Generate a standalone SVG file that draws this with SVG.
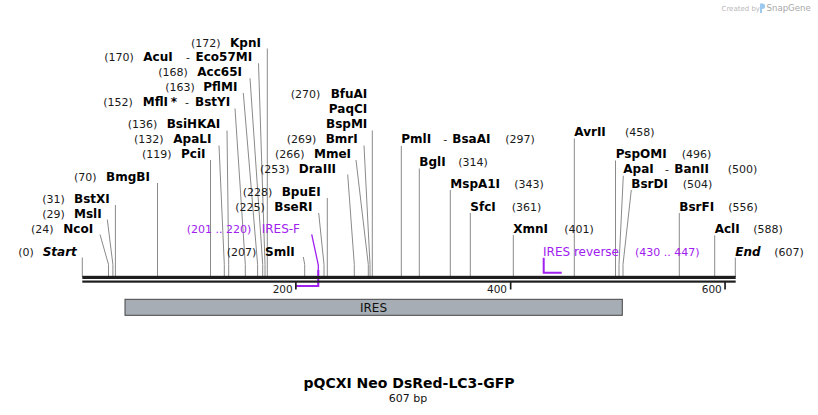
<svg xmlns="http://www.w3.org/2000/svg" width="818" height="415" viewBox="0 0 818 415">
<style>
text{font-family:"DejaVu Sans",Verdana,sans-serif}
.n{font-size:12px;font-weight:bold;fill:#000}
.i{font-size:12px;font-weight:bold;font-style:italic;fill:#000}
.c{font-size:11px;fill:#1a1a1a}
.d{font-size:11px;fill:#1a1a1a}
.pp{fill:#a020f0}
.pn{font-size:12px}
.l{stroke:#8a8a8a;stroke-width:1;fill:none}
.pr{stroke:#a020f0;fill:none}
.bb{fill:#1e1e1e}
.tk{font-size:10.5px;fill:#1a1a1a}
</style>
<rect width="818" height="415" fill="#fff"/>
<g id="logo">
<text x="721.5" y="10.5" style="font-size:7px;fill:#b8b8b8">Created by</text>
<path d="M760 3.5 h2.4 a2.7 2.7 0 0 1 0 5.4 h-0.4 v4 h-2 z" fill="#9cc9ee"/>
<text x="766.5" y="11" style="font-size:8.6px;fill:#a8a8a8">SnapGene</text>
</g>
<g id="connectors">
<path class="l" d="M82.3 257.5V277"/>
<path class="l" d="M100 234.5L108.5 264.5V277"/>
<path class="l" d="M107.3 219.5L112.9 264.5V277"/>
<path class="l" d="M115.4 205V277"/>
<path class="l" d="M157.5 183V277"/>
<path class="l" d="M210.5 160V277"/>
<path class="l" d="M219 145.5L224.3 264.5V277"/>
<path class="l" d="M227 130.5L228.7 264.5V277"/>
<path class="l" d="M235 108.5L245.3 264.5V277"/>
<path class="l" d="M243.3 93L257.6 264.5V277"/>
<path class="l" d="M250 78.3L262.7 264.5V277"/>
<path class="l" d="M258.5 63.3L265 264.5V277"/>
<path class="l" d="M267.3 48.5V277"/>
<path class="l" d="M303.3 257L304.7 264.5V277"/>
<path class="l" d="M318.7 213L324 264.5V277"/>
<path class="l" d="M327.3 198V277"/>
<path class="l" d="M347.7 174.5L354.3 264.5V277"/>
<path class="l" d="M356 160L368.3 264.5V277"/>
<path class="l" d="M364 145.5L370 264.5V277"/>
<path class="l" d="M372.3 130.5V277"/>
<path class="l" d="M401.3 146V277"/>
<path class="l" d="M419.3 168.5V277"/>
<path class="l" d="M450.3 190V277"/>
<path class="l" d="M470.3 213V277"/>
<path class="l" d="M513.3 235V277"/>
<path class="l" d="M574.3 138.5V277"/>
<path class="l" d="M615.5 160.5V277"/>
<path class="l" d="M623.3 175.7L619 264.5V277"/>
<path class="l" d="M631.3 190L623 264.5V277"/>
<path class="l" d="M679.3 213V277"/>
<path class="l" d="M714.7 235.3V277"/>
<path class="l" d="M735.3 257.7V277"/>
<path class="pr" stroke-width="1.3" d="M311.7 234.3L318.3 265V286"/>
<path class="pr" stroke-width="2" d="M318.3 270V286H295.7"/>
<path class="pr" stroke-width="2" d="M543.7 257.7V272.7H561.7"/>
</g>
<g id="backbone">
<rect class="bb" x="82.3" y="275.8" width="653.4" height="3.2"/>
<rect class="bb" x="82.3" y="280.5" width="653.4" height="2.2"/>
<rect class="bb" x="295" y="282" width="1.7" height="7.5"/>
<rect class="bb" x="509.8" y="282" width="1.7" height="7.5"/>
<rect class="bb" x="724.2" y="282" width="1.7" height="7.5"/>
<text class="tk" x="292.7" y="292.8" text-anchor="end">200</text>
<text class="tk" x="507" y="292.8" text-anchor="end">400</text>
<text class="tk" x="721.8" y="292.8" text-anchor="end">600</text>
</g>
<g id="feature-IRES">
<rect x="125" y="299.3" width="497.3" height="16" fill="#a6adb4" stroke="#444" stroke-width="1"/>
<text x="373.5" y="311.6" text-anchor="middle" style="font-size:12px;fill:#111">IRES</text>
</g>
<g id="site-Start"><text class="c" x="18.3" y="256">(0)</text><text class="i" x="42.7" y="256">Start</text></g>
<g id="site-NcoI"><text class="c" x="31" y="233">(24)</text><text class="n" x="63.3" y="233">NcoI</text></g>
<g id="site-MslI"><text class="c" x="42.3" y="217.7">(29)</text><text class="n" x="74" y="217.7">MslI</text></g>
<g id="site-BstXI"><text class="c" x="42.3" y="203.3">(31)</text><text class="n" x="74" y="203.3">BstXI</text></g>
<g id="site-BmgBI"><text class="c" x="74" y="181">(70)</text><text class="n" x="106" y="181">BmgBI</text></g>
<g id="site-PciI"><text class="c" x="142" y="158">(119)</text><text class="n" x="181" y="158">PciI</text></g>
<g id="site-ApaLI"><text class="c" x="134" y="143.3">(132)</text><text class="n" x="173.3" y="143.3">ApaLI</text></g>
<g id="site-BsiHKAI"><text class="c" x="127.7" y="128.3">(136)</text><text class="n" x="166.7" y="128.3">BsiHKAI</text></g>
<g id="site-MflI"><text class="c" x="103.3" y="106">(152)</text><text class="n" x="142.7" y="106">MflI</text><text class="n" x="170.7" y="106">*</text><text class="d" x="185" y="106">-</text><text class="n" x="195" y="106">BstYI</text></g>
<g id="site-PflMI"><text class="c" x="165.3" y="91">(163)</text><text class="n" x="203.3" y="91">PflMI</text></g>
<g id="site-Acc65I"><text class="c" x="158.3" y="76.3">(168)</text><text class="n" x="197.3" y="76.3">Acc65I</text></g>
<g id="site-AcuI"><text class="c" x="104.3" y="61.3">(170)</text><text class="n" x="143.3" y="61.3">AcuI</text><text class="d" x="186" y="61.3">-</text><text class="n" x="195.5" y="61.3">Eco57MI</text></g>
<g id="site-KpnI"><text class="c" x="191" y="46.7">(172)</text><text class="n" x="230" y="46.7">KpnI</text></g>
<g id="site-SmlI"><text class="c" x="226.7" y="256">(207)</text><text class="n" x="265" y="256">SmlI</text></g>
<g id="primer-IRES-F" class="pp"><text class="c pp" x="186.7" y="233.3">(201 .. 220)</text><text class="pn pp" x="261.7" y="233.3">IRES-F</text></g>
<g id="site-BseRI"><text class="c" x="235.3" y="211">(225)</text><text class="n" x="274.3" y="211">BseRI</text></g>
<g id="site-BpuEI"><text class="c" x="242.7" y="196">(228)</text><text class="n" x="281.7" y="196">BpuEI</text></g>
<g id="site-DraIII"><text class="c" x="260" y="172.7">(253)</text><text class="n" x="298.7" y="172.7">DraIII</text></g>
<g id="site-MmeI"><text class="c" x="275" y="157.7">(266)</text><text class="n" x="314" y="157.7">MmeI</text></g>
<g id="site-BmrI"><text class="c" x="286.7" y="143">(269)</text><text class="n" x="325.7" y="143">BmrI</text></g>
<g id="site-BfuAI"><text class="c" x="290.7" y="98.3">(270)</text><text class="n" x="367.3" y="98.3" text-anchor="end">BfuAI</text><text class="n" x="367.3" y="113" text-anchor="end">PaqCI</text><text class="n" x="367.3" y="127.7" text-anchor="end">BspMI</text></g>
<g id="site-PmlI"><text class="n" x="401.3" y="143.3">PmlI</text><text class="d" x="443.3" y="143.3">-</text><text class="n" x="452.3" y="143.3">BsaAI</text><text class="c" x="505.3" y="143.3">(297)</text></g>
<g id="site-BglI"><text class="n" x="419.3" y="166">BglI</text><text class="c" x="458.3" y="166">(314)</text></g>
<g id="site-MspA1I"><text class="n" x="450.3" y="187.7">MspA1I</text><text class="c" x="514.3" y="187.7">(343)</text></g>
<g id="site-SfcI"><text class="n" x="470.3" y="210.7">SfcI</text><text class="c" x="511.7" y="210.7">(361)</text></g>
<g id="site-XmnI"><text class="n" x="513.3" y="232.7">XmnI</text><text class="c" x="564.3" y="232.7">(401)</text></g>
<g id="primer-IRES-reverse"><text class="pn pp" x="543" y="256">IRES reverse</text><text class="c pp" x="635" y="256">(430 .. 447)</text></g>
<g id="site-AvrII"><text class="n" x="574.3" y="136">AvrII</text><text class="c" x="625" y="136">(458)</text></g>
<g id="site-PspOMI"><text class="n" x="615.7" y="158">PspOMI</text><text class="c" x="681.7" y="158">(496)</text></g>
<g id="site-ApaI"><text class="n" x="623.3" y="173">ApaI</text><text class="d" x="665" y="173">-</text><text class="n" x="674.3" y="173">BanII</text><text class="c" x="727.7" y="173">(500)</text></g>
<g id="site-BsrDI"><text class="n" x="631.3" y="187.7">BsrDI</text><text class="c" x="682.7" y="187.7">(504)</text></g>
<g id="site-BsrFI"><text class="n" x="679.3" y="210.7">BsrFI</text><text class="c" x="728.3" y="210.7">(556)</text></g>
<g id="site-AclI"><text class="n" x="714.7" y="232.7">AclI</text><text class="c" x="753.3" y="232.7">(588)</text></g>
<g id="site-End"><text class="i" x="735.3" y="256">End</text><text class="c" x="774.3" y="256">(607)</text></g>
<g id="title">
<text x="409" y="387.5" text-anchor="middle" style="font-size:14px;font-weight:bold;fill:#000">pQCXI Neo DsRed-LC3-GFP</text>
<text x="408" y="401.7" text-anchor="middle" style="font-size:11px;fill:#111">607 bp</text>
</g>
</svg>
